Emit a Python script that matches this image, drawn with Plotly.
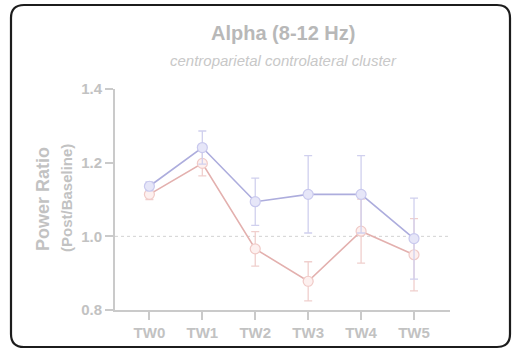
import plotly.graph_objects as go

categories = ["TW0", "TW1", "TW2", "TW3", "TW4", "TW5"]
blue_vals = [1.136, 1.241, 1.094, 1.114, 1.114, 0.994]
blue_err = [0.012, 0.045, 0.064, 0.105, 0.105, 0.110]
red_vals = [1.114, 1.198, 0.966, 0.878, 1.014, 0.950]
red_err = [0.014, 0.034, 0.047, 0.053, 0.087, 0.098]
y_ticks = [0.8, 1.0, 1.2, 1.4]
y_tick_text = ["0.8", "1.0", "1.2", "1.4"]

FONT = "Liberation Sans, Arial, sans-serif"
AXIS_C = "#cacaca"
TXT_C = "#c2c2c2"

fig = go.Figure()

fig.add_trace(go.Scatter(
    x=categories, y=red_vals, mode="lines+markers",
    line=dict(color="#e3b0ae", width=1.6),
    marker=dict(size=10, color="#fdf0ef", line=dict(color="#f0cac7", width=1.2)),
    error_y=dict(type="data", array=red_err, visible=True, color="#f0cfcd", thickness=1.3, width=4),
    showlegend=False, hoverinfo="skip",
))
fig.add_trace(go.Scatter(
    x=categories, y=blue_vals, mode="lines+markers",
    line=dict(color="#adaddd", width=1.6),
    marker=dict(size=10, color="#e6e6f8", line=dict(color="#c9c9ee", width=1.2)),
    error_y=dict(type="data", array=blue_err, visible=True, color="#d0d0ee", thickness=1.3, width=4),
    showlegend=False, hoverinfo="skip",
))

# plot area: x 115..450 px, y 89..310 px
L, R, T, B = 115, 450, 89, 310
W, H = R - L, B - T

def px(x):
    return (x - L) / W

def py(y):
    return (B - y) / H

x0, x1 = px(11), px(510)
y1, y0 = py(5), py(347)
rx, ry = 13 / W, 13 / H
path = (f"M {x0+rx},{y1} L {x1-rx},{y1} Q {x1},{y1} {x1},{y1-ry} "
        f"L {x1},{y0+ry} Q {x1},{y0} {x1-rx},{y0} "
        f"L {x0+rx},{y0} Q {x0},{y0} {x0},{y0+ry} "
        f"L {x0},{y1-ry} Q {x0},{y1} {x0+rx},{y1} Z")

fig.update_layout(
    width=513, height=352,
    margin=dict(l=L, r=513 - R, t=T, b=352 - B, autoexpand=False),
    paper_bgcolor="white", plot_bgcolor="white",
    font=dict(family=FONT, color=TXT_C),
    shapes=[
        dict(type="path", xref="paper", yref="paper", path=path,
             line=dict(color="#1c1c1c", width=2.2), fillcolor="rgba(0,0,0,0)", layer="below"),
        dict(type="line", xref="paper", yref="y", x0=0, x1=1, y0=1.0, y1=1.0,
             line=dict(color="#d2d2d2", width=1, dash="dot"), layer="below"),
    ],
    annotations=[
        dict(text="<b>Alpha (8-12 Hz)</b>", xref="paper", yref="paper", x=px(282.5), y=py(33),
             showarrow=False, font=dict(size=20, color="#b8b8b8", family=FONT), xanchor="center", yanchor="middle"),
        dict(text="<i>centroparietal controlateral cluster</i>",
             xref="paper", yref="paper", x=px(283), y=py(60),
             showarrow=False, font=dict(size=15, color="#c8c8c8", family=FONT), xanchor="center", yanchor="middle"),
        dict(text="<b>Power Ratio</b>", xref="paper", yref="paper", x=px(43), y=py(199),
             textangle=-90, showarrow=False, font=dict(size=18, color="#c2c2c2", family=FONT),
             xanchor="center", yanchor="middle"),
        dict(text="<b>(Post/Baseline)</b>", xref="paper", yref="paper", x=px(66), y=py(198),
             textangle=-90, showarrow=False, font=dict(size=15, color="#c2c2c2", family=FONT),
             xanchor="center", yanchor="middle"),
    ],
)

fig.update_xaxes(
    type="category", range=[-0.65, 5.68], showgrid=False, zeroline=False,
    showline=True, linecolor=AXIS_C, linewidth=2,
    ticks="outside", ticklen=8, tickwidth=2, tickcolor=AXIS_C,
    tickfont=dict(size=15, color=TXT_C, family=FONT, weight="bold"),
)
fig.update_yaxes(
    range=[0.8, 1.4], showgrid=False, zeroline=False,
    tickvals=y_ticks, ticktext=y_tick_text,
    showline=True, linecolor=AXIS_C, linewidth=2,
    ticks="outside", ticklen=8, tickwidth=2, tickcolor=AXIS_C,
    tickfont=dict(size=15, color=TXT_C, family=FONT, weight="bold"),
)

fig.write_html("out.html", config={"displayModeBar": False},
               post_script="document.body.style.margin='0';document.body.style.overflow='hidden';")
